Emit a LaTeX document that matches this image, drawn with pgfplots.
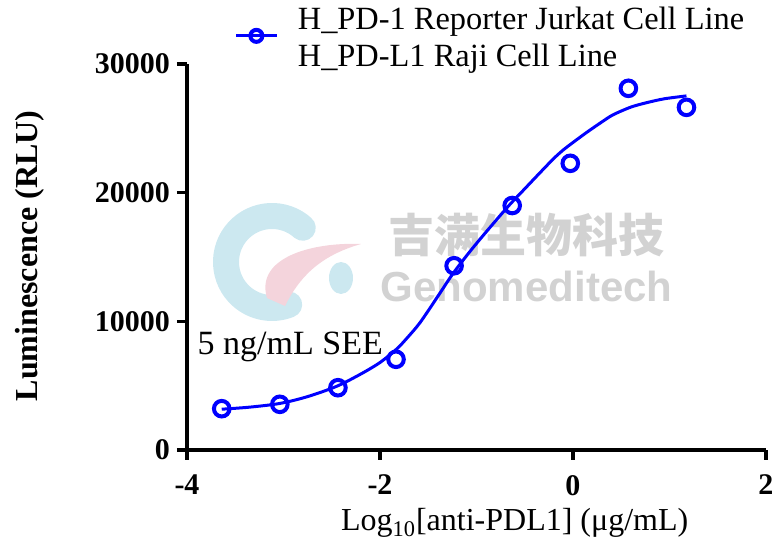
\documentclass[border=0pt]{standalone}
\usepackage{pgfplots}
\pgfplotsset{compat=1.18}
\usepackage{fontspec}
\setmainfont{Liberation Serif}
\newfontfamily\wmsans{Liberation Sans}
\newfontfamily\wmcjk{Noto Sans CJK SC}
\definecolor{wmgray}{RGB}{210,210,210}
\definecolor{logoblue}{RGB}{204,232,240}
\definecolor{logopink}{RGB}{244,212,220}
\definecolor{plotblue}{RGB}{0,0,255}

% fitted dose-response curve
\pgfplotstableread{
x y
-3.640 3170
-3.350 3330
-3.036 3620
-2.750 4150
-2.449 4950
-2.200 5900
-2.000 6800
-1.827 7850
-1.720 8700
-1.585 9900
-1.400 11950
-1.240 13750
-1.060 15500
-0.894 17000
-0.670 18950
-0.500 20300
-0.342 21550
-0.200 22650
-0.104 23300
0.000 23900
0.145 24700
0.300 25500
0.415 26050
0.600 26650
0.767 27000
0.950 27300
1.176 27520
}\fitcurve

% measured luminescence
\pgfplotstableread{
x y
-3.640 3210
-3.038 3550
-2.436 4840
-1.834 7050
-1.232 14320
-0.630 19000
-0.028 22280
0.574 28110
1.176 26630
}\measured

\begin{document}
\begin{tikzpicture}
% company watermark behind the plot
\begin{scope}
  \draw[logoblue, line width=13pt, line cap=round]
    (42.5pt,94pt) ++(48:23pt) arc[start angle=48, end angle=292, radius=23pt];
  \fill[logoblue] (77pt,86pt) ellipse[x radius=6pt, y radius=8pt];
  \fill[logopink] (40pt,76pt) .. controls (34pt,96pt) and (62pt,104pt) .. (87pt,103pt)
    .. controls (66pt,97pt) and (56pt,86pt) .. (49pt,72pt) -- cycle;
  \node[font=\wmcjk\bfseries\fontsize{23}{23}\selectfont, text=wmgray] at (169.75pt,107.5pt) {吉满生物科技};
  \node[font=\wmsans\bfseries\fontsize{21}{21}\selectfont, text=wmgray] at (169.75pt,81.5pt) {Genomeditech};
\end{scope}

\begin{axis}[
  at={(0pt,0pt)}, anchor=south west,
  scale only axis, width=289.5pt, height=193pt,
  xmin=-4, xmax=2, ymin=0, ymax=30000,
  axis lines=left, axis line style={-, line width=2.2pt},
  xtick={-4,-2,0,2}, xticklabels={-4,-2,0,2},
  ytick={0,10000,20000,30000}, yticklabels={0,10000,20000,30000},
  scaled y ticks=false, scaled x ticks=false,
  tick align=outside, major tick length=5pt,
  tick style={line width=1.8pt, black},
  ticklabel style={font=\fontsize{15}{15}\selectfont\bfseries},
  xticklabel style={yshift=-4pt},
  xlabel={Log\textsubscript{10}[anti-PDL1] (μg/mL)},
  ylabel={\bfseries Luminescence (RLU)},
  label style={font=\fontsize{16}{16}\selectfont},
  xlabel style={at={(axis description cs:0.566,-0.19)}, anchor=center},
  ylabel style={at={(axis description cs:-0.271,0.503)}, anchor=center},
  legend style={draw=none, fill=none, at={(axis description cs:0.0820,1.158)},
    anchor=north west, inner sep=0pt,
    font=\fontsize{16.2}{18.3}\selectfont, cells={align=left},
    /tikz/every odd column/.append style={column sep=7.5pt}},
  clip=false,
]
\addplot[plotblue, line width=1.5pt, smooth, forget plot] table[x=x, y=y] {\fitcurve};
\addplot[plotblue, only marks, mark=o, mark size=3.9pt, line width=2pt, forget plot]
  table[x=x, y=y] {\measured};
\addlegendimage{legend image code/.code={
  \draw[plotblue, line width=1.5pt] (0pt,1.3pt) -- (20.5pt,1.3pt);
  \draw[plotblue, line width=2pt] (10pt,1.3pt) circle[radius=3pt];}}
\addlegendentry{H\_PD-1 Reporter Jurkat Cell Line\\H\_PD-L1 Raji Cell Line}
\node[anchor=base west, inner sep=0pt, font=\fontsize{17}{17}\selectfont]
  at (axis cs:-3.893,7400) {5 ng/mL SEE};
\end{axis}
\pgfresetboundingbox
\useasboundingbox (-93.5pt,-47pt) rectangle (293pt,225pt);
\end{tikzpicture}
\end{document}
